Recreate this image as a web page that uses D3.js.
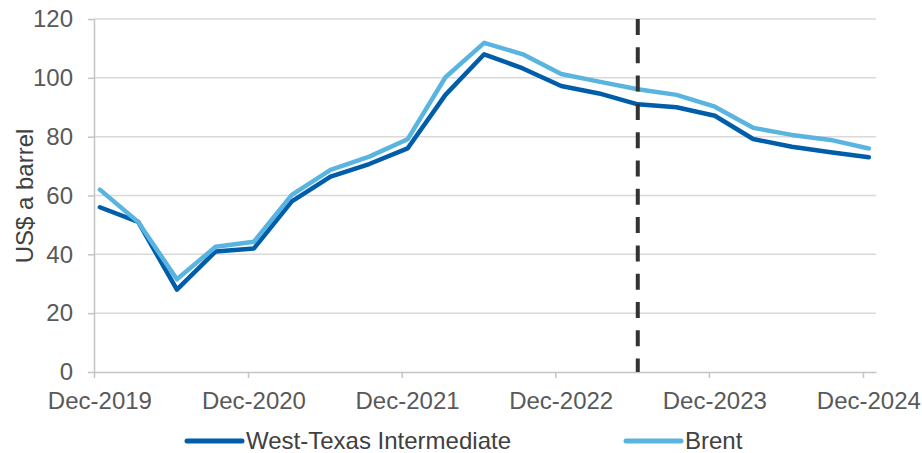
<!DOCTYPE html>
<html>
<head>
<meta charset="utf-8">
<script src="https://cdn.jsdelivr.net/npm/d3@7"></script>
<style>
  body { margin: 0; background: #fff; }
  svg { font-family: "Liberation Sans", Arial, sans-serif; }
</style>
</head>
<body>
<svg width="922" height="453"></svg>
<script>
// quarterly points, Dec-2019 .. Dec-2024
var quarters = ["2019-12", "2020-03", "2020-06", "2020-09", "2020-12", "2021-03", "2021-06",
  "2021-09", "2021-12", "2022-03", "2022-06", "2022-09", "2022-12", "2023-03", "2023-06",
  "2023-09", "2023-12", "2024-03", "2024-06", "2024-09", "2024-12"];
var wti = [56, 51, 28, 41, 42, 58, 66.4, 70.7, 76, 94.2, 108, 103.2, 97.2, 94.7, 91,
  90, 87.1, 79.2, 76.6, 74.7, 73];
var brent = [62, 51, 31.5, 42.6, 44.3, 60.2, 68.7, 73.2, 79.1, 100.2, 111.9, 108, 101.3, 98.7, 96.1,
  94.2, 90.2, 83, 80.6, 78.9, 76];
var tickYears = [2019, 2020, 2021, 2022, 2023, 2024];
var yTicks = [0, 20, 40, 60, 80, 100, 120];
var forecastStart = "2023-06";
var seriesNames = ["West-Texas Intermediate", "Brent"];

var parse = d3.timeParse("%Y-%m-%d");
function dt(q) { return parse(q + "-15"); }

var svg = d3.select("svg");
var mLeft = 94, mRight = 876, mTop = 19, mBottom = 372;
var fs = 24;

var x = d3.scaleTime()
  .domain([parse("2019-12-01"), parse("2025-01-01")])
  .range([mLeft, mRight]);
var y = d3.scaleLinear().domain([0, 120]).range([mBottom, mTop]);

// gridlines
svg.append("g").selectAll("line")
  .data(yTicks.filter(function(d) { return d > 0; }))
  .enter().append("line")
  .attr("x1", mLeft).attr("x2", mRight)
  .attr("y1", function(d) { return y(d); })
  .attr("y2", function(d) { return y(d); })
  .attr("stroke", "#d9d9d9").attr("stroke-width", 1.5);

// y axis
var yAxis = svg.append("g")
  .attr("transform", "translate(" + mLeft + ",0)")
  .call(d3.axisLeft(y).tickValues(yTicks).tickSizeInner(6).tickSizeOuter(0).tickPadding(15));
yAxis.select(".domain").attr("stroke", "#c4c4c4").attr("stroke-width", 1.5);
yAxis.selectAll(".tick line").attr("stroke", "#c4c4c4").attr("stroke-width", 1.5);
yAxis.selectAll(".tick text")
  .attr("font-size", fs).attr("fill", "#595959")
  .attr("font-family", "Liberation Sans, Arial, sans-serif");

// x axis
var xAxis = svg.append("g")
  .attr("transform", "translate(0," + mBottom + ")")
  .call(d3.axisBottom(x)
    .tickValues(tickYears.map(function(yr) { return new Date(yr, 11, 1); }))
    .tickSizeInner(6).tickSizeOuter(0).tickFormat(""));
xAxis.select(".domain").attr("stroke", "#c4c4c4").attr("stroke-width", 1.5);
xAxis.selectAll(".tick line").attr("stroke", "#c4c4c4").attr("stroke-width", 1.5);

svg.append("g").selectAll("text")
  .data(tickYears)
  .enter().append("text")
  .attr("x", function(d) { return x(new Date(d, 11, 15)); })
  .attr("y", 409)
  .attr("text-anchor", "middle")
  .attr("font-size", fs).attr("fill", "#595959")
  .text(function(d) { return "Dec-" + d; });

// y label
svg.append("text")
  .attr("transform", "translate(33,196) rotate(-90)")
  .attr("text-anchor", "middle")
  .attr("font-size", fs).attr("fill", "#404040")
  .text("US$ a barrel");

// lines
var line = d3.line()
  .x(function(d, i) { return x(dt(quarters[i])); })
  .y(function(d) { return y(d); });

svg.append("path").datum(wti)
  .attr("d", line).attr("fill", "none")
  .attr("stroke", "#005daa").attr("stroke-width", 4.5)
  .attr("stroke-linecap", "round").attr("stroke-linejoin", "round");

svg.append("path").datum(brent)
  .attr("d", line).attr("fill", "none")
  .attr("stroke", "#5ab4e0").attr("stroke-width", 4.5)
  .attr("stroke-linecap", "round").attr("stroke-linejoin", "round");

// forecast marker
svg.append("line")
  .attr("x1", x(dt(forecastStart))).attr("x2", x(dt(forecastStart)))
  .attr("y1", mTop).attr("y2", mBottom)
  .attr("stroke", "#333").attr("stroke-width", 4)
  .attr("stroke-dasharray", "16,12.3");

// legend
var legendItems = [
  { name: seriesNames[0], color: "#005daa", x0: 187 },
  { name: seriesNames[1], color: "#5ab4e0", x0: 626 }
];
var lg = svg.append("g").selectAll("g").data(legendItems).enter().append("g");
lg.append("line")
  .attr("x1", function(d) { return d.x0; })
  .attr("x2", function(d) { return d.x0 + 55; })
  .attr("y1", 441).attr("y2", 441)
  .attr("stroke", function(d) { return d.color; })
  .attr("stroke-width", 5).attr("stroke-linecap", "round");
lg.append("text")
  .attr("x", function(d) { return d.x0 + 59; })
  .attr("y", 449)
  .attr("font-size", fs).attr("fill", "#404040")
  .text(function(d) { return d.name; });
</script>
</body>
</html>
